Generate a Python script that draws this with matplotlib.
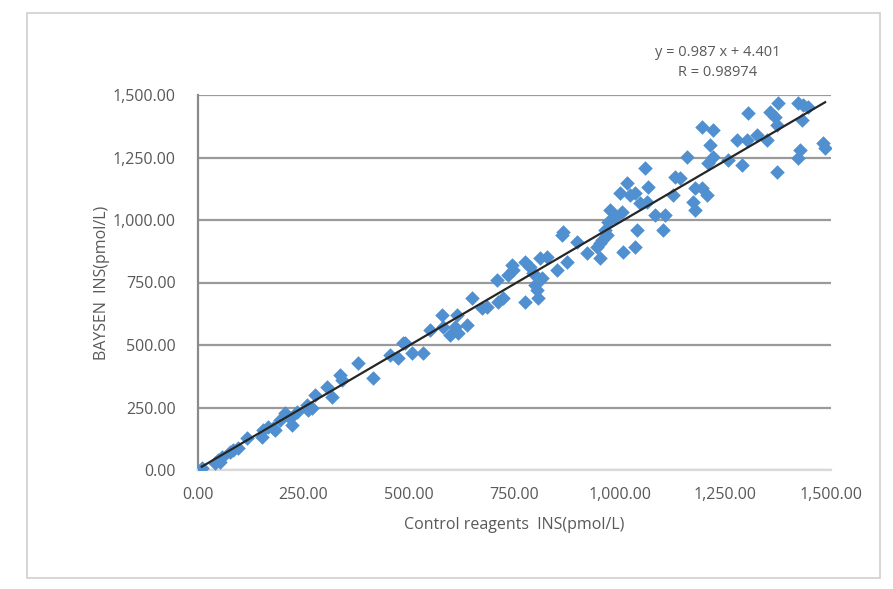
import numpy as np
import matplotlib.pyplot as plt
from matplotlib.patches import Rectangle

# control reagent vs BAYSEN insulin (pmol/L)
x_ctrl = [9, 40, 47, 57, 52, 83, 95, 76, 116, 152, 154, 166, 178, 182, 194,
          206, 223, 235, 218, 258, 261, 270, 277, 306, 318, 337, 341, 379, 415,
          455, 474, 491, 486, 507, 533, 550, 578, 581, 597, 609, 614, 616, 638,
          649, 673, 685, 709, 711, 723, 735, 744, 747, 775, 775, 787, 794, 799,
          803, 806, 811, 815, 827, 851, 863, 875, 898, 922, 953, 953, 969,
          865, 946, 957, 965, 972, 976, 988, 1005, 1007, 1036, 1040,
          1000, 1017, 1024, 1036, 1048, 1059, 1067, 1064, 1083, 1102, 1107,
          1126, 1130, 1142, 1159, 1173, 1178, 1178, 1206, 1209, 1221,
          1194, 1221, 1213, 1256, 1289, 1194,
          1304, 1277, 1301, 1325, 1349, 1356, 1375, 1367, 1372, 1372,
          1422, 1434, 1446, 1431, 1427, 1422, 1481, 1486]
y_baysen = [7, 28, 40, 52, 32, 80, 88, 72, 128, 132, 160, 172, 168, 160, 200,
            228, 180, 232, 208, 260, 240, 248, 300, 332, 292, 380, 360, 428, 368,
            460, 448, 508, 508, 468, 468, 560, 620, 572, 540, 572, 620, 548, 580,
            688, 648, 652, 760, 672, 688, 780, 820, 800, 672, 832, 812, 788, 740,
            720, 688, 848, 768, 852, 800, 940, 832, 912, 868, 848, 908, 940,
            952, 892, 920, 960, 992, 1040, 1012, 1032, 872, 892, 960,
            1108, 1148, 1100, 1108, 1068, 1208, 1132, 1072, 1020, 960, 1020,
            1100, 1172, 1168, 1252, 1072, 1128, 1040, 1100, 1228, 1252,
            1372, 1360, 1300, 1240, 1220, 1128,
            1428, 1320, 1320, 1340, 1320, 1432, 1468, 1412, 1380, 1192,
            1468, 1460, 1452, 1400, 1280, 1248, 1308, 1288]

slope = 0.987
intercept = 4.401
r_value = 0.98974

ticks = [0, 250, 500, 750, 1000, 1250, 1500]
tick_labels = ['0.00', '250.00', '500.00', '750.00', '1,000.00', '1,250.00', '1,500.00']

plt.rcParams['font.family'] = ['Open Sans', 'DejaVu Sans']
text_color = '#595959'

fig = plt.figure(figsize=(8.93, 5.89), dpi=100)
fig.patches.append(Rectangle((27 / 893, 1 - 578 / 589), 853 / 893, 565 / 589,
                             transform=fig.transFigure, fill=False,
                             edgecolor='#d0d0d0', linewidth=1.2))

ax = fig.add_axes([198 / 893, 1 - 470 / 589, 633 / 893, 375 / 589])
ax.scatter(x_ctrl, y_baysen, marker='D', s=55, color='#5090d0', zorder=3,
           linewidths=0)

xs = np.array([min(x_ctrl), max(x_ctrl)])
ax.plot(xs, slope * xs + intercept, color='#262626', linewidth=1.6, zorder=4)

ax.set_xlim(0, 1500)
ax.set_ylim(0, 1500)
ax.set_xticks(ticks)
ax.set_xticklabels(tick_labels)
ax.set_yticks(ticks)
ax.set_yticklabels(tick_labels)
ax.tick_params(length=0, labelsize=11.5, colors=text_color)
ax.tick_params(axis='y', pad=16)
ax.tick_params(axis='x', pad=12)
ax.yaxis.grid(True, color='#9a9a9a', linewidth=1.6)
ax.set_axisbelow(True)

for side in ['top', 'right']:
    ax.spines[side].set_visible(False)
ax.spines['left'].set_color('#8a8a8a')
ax.spines['left'].set_linewidth(1.6)
ax.spines['bottom'].set_color('#d9d9d9')
ax.spines['bottom'].set_linewidth(1.6)

ax.set_xlabel('Control reagents  INS(pmol/L)', fontsize=11.5, color=text_color,
              labelpad=10)
ax.set_ylabel('BAYSEN  INS(pmol/L)', fontsize=11.5, color=text_color, labelpad=2)

fig.text(718 / 893, 1 - 52 / 589, f'y = {slope} x + {intercept}', ha='center',
         va='center', fontsize=10.5, color=text_color)
fig.text(718 / 893, 1 - 72 / 589, f'R = {r_value}', ha='center', va='center',
         fontsize=10.5, color=text_color)

plt.savefig('out.png', dpi=100)
